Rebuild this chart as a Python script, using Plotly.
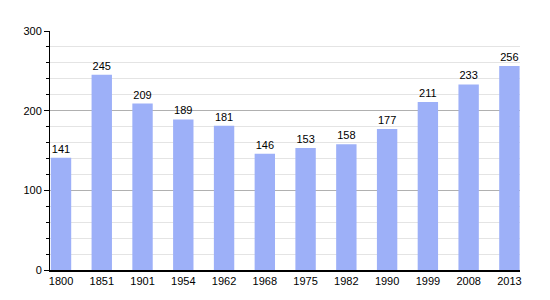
import plotly.graph_objects as go

years = ["1800", "1851", "1901", "1954", "1962", "1968", "1975", "1982", "1990", "1999", "2008", "2013"]
population = [141, 245, 209, 189, 181, 146, 153, 158, 177, 211, 233, 256]

fig = go.Figure(go.Bar(
    x=years, y=population,
    marker=dict(color="#9db0f8", line=dict(width=0)),
    text=population, textposition="outside", cliponaxis=False,
    textfont=dict(size=11, color="black", family="Liberation Sans"),
    width=0.5,
))

fig.update_layout(
    width=550, height=300,
    margin=dict(l=50, r=30, t=31, b=30),
    plot_bgcolor="white", paper_bgcolor="white",
    font=dict(family="Liberation Sans", size=11, color="black"),
    showlegend=False,
    xaxis=dict(
        type="category", range=[-0.27, 11.26],
        showline=True, linecolor="black", linewidth=1.5,
        ticks="", showgrid=False, tickfont=dict(size=11),
    ),
    yaxis=dict(
        range=[0, 300], dtick=100, tick0=0,
        showline=True, linecolor="black", linewidth=1,
        ticks="outside", ticklen=5, tickcolor="black",
        showgrid=True, gridcolor="#b0b0b0", gridwidth=1,
        zeroline=False, tickfont=dict(size=11),
        minor=dict(dtick=20, showgrid=True, gridcolor="#e4e4e4",
                   ticks="outside", ticklen=3, tickcolor="black"),
    ),
)

fig.write_html("out.html")
